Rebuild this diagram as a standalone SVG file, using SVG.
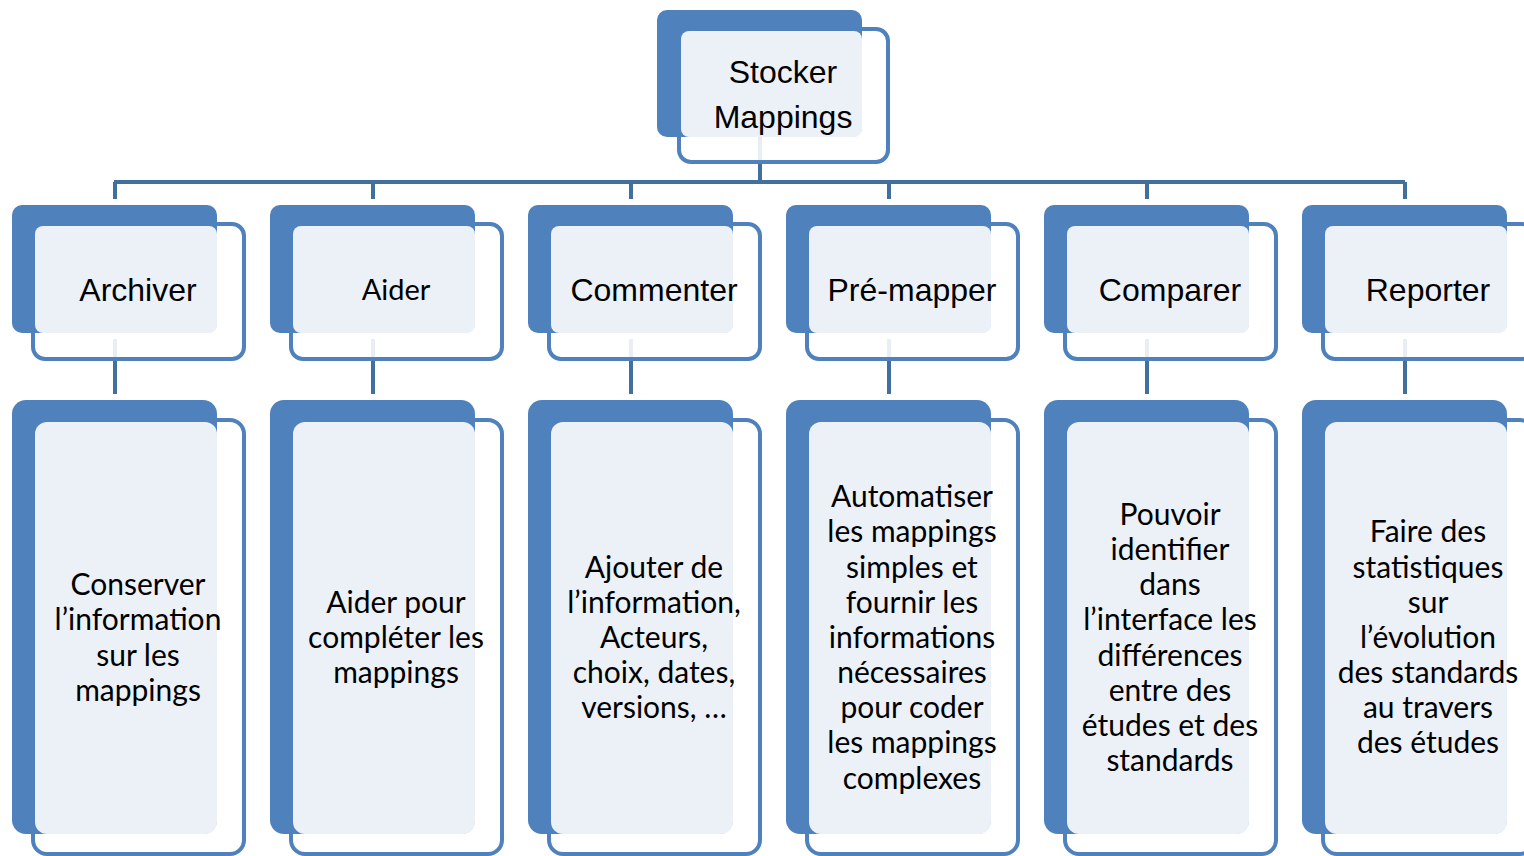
<svg xmlns="http://www.w3.org/2000/svg" width="1524" height="856" viewBox="0 0 1524 856">
<style>
.back{fill:#4F81BD}
.front{fill:#FFFFFF;fill-opacity:0.88;stroke:#4F81BD;stroke-width:4}
.light{fill:#ECF1F8}
.conn{stroke:#41709F;stroke-width:4;fill:none}
.arial{font-family:"Liberation Sans",Arial,sans-serif;font-size:32px;fill:#000;text-anchor:middle}
.cal{font-family:Lato,"Open Sans",sans-serif;font-size:30px;fill:#000;text-anchor:middle}
.cal2{font-family:Lato,"Open Sans",sans-serif;font-size:29px;fill:#000;text-anchor:middle}
</style>
<rect width="1524" height="856" fill="#FFFFFF"/>
<g id="connectors">
<path class="conn" d="M760 137V182M114 182H1405M115 182V199M373 182V199M631 182V199M889 182V199M1147 182V199M1405 182V199"/>
<path class="conn" d="M115 339V394M373 339V394M631 339V394M889 339V394M1147 339V394M1405 339V394"/>
</g>
<g id="n0">
<rect class="front" x="679" y="29" width="209" height="133" rx="12"/>
<rect class="back" x="657" y="10" width="205" height="127" rx="10"/>
<rect class="light" x="681" y="31" width="181" height="106" rx="8"/>
<text class="arial" x="783" y="83">Stocker</text>
<text class="arial" x="783" y="128">Mappings</text>
</g>
<g id="n1">
<rect class="front" x="33" y="224" width="211" height="135" rx="12"/>
<rect class="back" x="12" y="205" width="205" height="128" rx="10"/>
<rect class="light" x="35" y="226" width="182" height="107" rx="8"/>
<text class="arial" x="138" y="301">Archiver</text>
</g>
<g id="n2">
<rect class="front" x="291" y="224" width="211" height="135" rx="12"/>
<rect class="back" x="270" y="205" width="205" height="128" rx="10"/>
<rect class="light" x="293" y="226" width="182" height="107" rx="8"/>
<text class="cal2" x="396" y="300">Aider</text>
</g>
<g id="n3">
<rect class="front" x="549" y="224" width="211" height="135" rx="12"/>
<rect class="back" x="528" y="205" width="205" height="128" rx="10"/>
<rect class="light" x="551" y="226" width="182" height="107" rx="8"/>
<text class="arial" x="654" y="301">Commenter</text>
</g>
<g id="n4">
<rect class="front" x="807" y="224" width="211" height="135" rx="12"/>
<rect class="back" x="786" y="205" width="205" height="128" rx="10"/>
<rect class="light" x="809" y="226" width="182" height="107" rx="8"/>
<text class="arial" x="912" y="301">Pré-mapper</text>
</g>
<g id="n5">
<rect class="front" x="1065" y="224" width="211" height="135" rx="12"/>
<rect class="back" x="1044" y="205" width="205" height="128" rx="10"/>
<rect class="light" x="1067" y="226" width="182" height="107" rx="8"/>
<text class="arial" x="1170" y="301">Comparer</text>
</g>
<g id="n6">
<rect class="front" x="1323" y="224" width="211" height="135" rx="12"/>
<rect class="back" x="1302" y="205" width="205" height="128" rx="10"/>
<rect class="light" x="1325" y="226" width="182" height="107" rx="8"/>
<text class="arial" x="1428" y="301">Reporter</text>
</g>
<g id="d1">
<rect class="front" x="33" y="420" width="211" height="434" rx="14"/>
<rect class="back" x="12" y="400" width="205" height="434" rx="14"/>
<rect class="light" x="35" y="422" width="182" height="412" rx="12"/>
<text class="cal" x="138"><tspan x="138" y="595">Conserver</tspan><tspan x="138" y="630">l’information</tspan><tspan x="138" y="666">sur les</tspan><tspan x="138" y="701">mappings</tspan></text>
</g>
<g id="d2">
<rect class="front" x="291" y="420" width="211" height="434" rx="14"/>
<rect class="back" x="270" y="400" width="205" height="434" rx="14"/>
<rect class="light" x="293" y="422" width="182" height="412" rx="12"/>
<text class="cal" x="396"><tspan x="396" y="613">Aider pour</tspan><tspan x="396" y="648">compléter les</tspan><tspan x="396" y="683">mappings</tspan></text>
</g>
<g id="d3">
<rect class="front" x="549" y="420" width="211" height="434" rx="14"/>
<rect class="back" x="528" y="400" width="205" height="434" rx="14"/>
<rect class="light" x="551" y="422" width="182" height="412" rx="12"/>
<text class="cal" x="654"><tspan x="654" y="578">Ajouter de</tspan><tspan x="654" y="613">l’information,</tspan><tspan x="654" y="648">Acteurs,</tspan><tspan x="654" y="683">choix, dates,</tspan><tspan x="654" y="718">versions, …</tspan></text>
</g>
<g id="d4">
<rect class="front" x="807" y="420" width="211" height="434" rx="14"/>
<rect class="back" x="786" y="400" width="205" height="434" rx="14"/>
<rect class="light" x="809" y="422" width="182" height="412" rx="12"/>
<text class="cal" x="912"><tspan x="912" y="507">Automatiser</tspan><tspan x="912" y="542">les mappings</tspan><tspan x="912" y="578">simples et</tspan><tspan x="912" y="613">fournir les</tspan><tspan x="912" y="648">informations</tspan><tspan x="912" y="683">nécessaires</tspan><tspan x="912" y="718">pour coder</tspan><tspan x="912" y="753">les mappings</tspan><tspan x="912" y="789">complexes</tspan></text>
</g>
<g id="d5">
<rect class="front" x="1065" y="420" width="211" height="434" rx="14"/>
<rect class="back" x="1044" y="400" width="205" height="434" rx="14"/>
<rect class="light" x="1067" y="422" width="182" height="412" rx="12"/>
<text class="cal" x="1170"><tspan x="1170" y="525">Pouvoir</tspan><tspan x="1170" y="560">identifier</tspan><tspan x="1170" y="595">dans</tspan><tspan x="1170" y="630">l’interface les</tspan><tspan x="1170" y="666">différences</tspan><tspan x="1170" y="701">entre des</tspan><tspan x="1170" y="736">études et des</tspan><tspan x="1170" y="771">standards</tspan></text>
</g>
<g id="d6">
<rect class="front" x="1323" y="420" width="211" height="434" rx="14"/>
<rect class="back" x="1302" y="400" width="205" height="434" rx="14"/>
<rect class="light" x="1325" y="422" width="182" height="412" rx="12"/>
<text class="cal" x="1428"><tspan x="1428" y="542">Faire des</tspan><tspan x="1428" y="578">statistiques</tspan><tspan x="1428" y="613">sur</tspan><tspan x="1428" y="648">l’évolution</tspan><tspan x="1428" y="683">des standards</tspan><tspan x="1428" y="718">au travers</tspan><tspan x="1428" y="753">des études</tspan></text>
</g>
</svg>
